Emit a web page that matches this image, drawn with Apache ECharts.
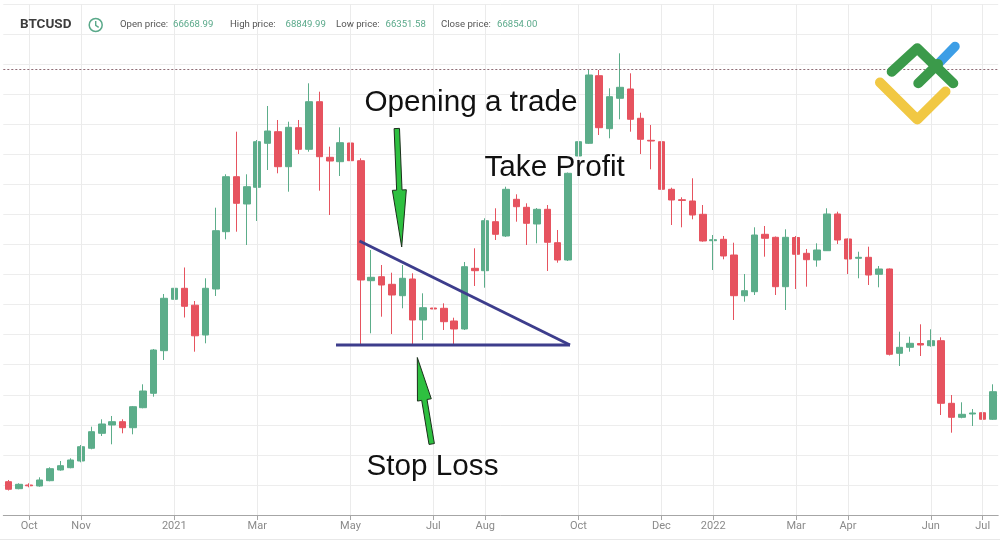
<!DOCTYPE html>
<html>
<head>
<meta charset="utf-8">
<script src="https://cdn.jsdelivr.net/npm/echarts@6/dist/echarts.min.js"></script>
<style>
html,body{margin:0;padding:0;background:#fff;}
#chart{width:1000px;height:542px;}
</style>
</head>
<body>
<div id="chart"></div>
<script>
// Weekly BTCUSD candles (week start dates)
const dates = [
 '2020-09-14','2020-09-21','2020-09-28','2020-10-05','2020-10-12','2020-10-19','2020-10-26',
 '2020-11-02','2020-11-09','2020-11-16','2020-11-23','2020-11-30','2020-12-07','2020-12-14','2020-12-21','2020-12-28',
 '2021-01-04','2021-01-11','2021-01-18','2021-01-25','2021-02-01','2021-02-08','2021-02-15','2021-02-22',
 '2021-03-01','2021-03-08','2021-03-15','2021-03-22','2021-03-29','2021-04-05','2021-04-12','2021-04-19','2021-04-26',
 '2021-05-03','2021-05-10','2021-05-17','2021-05-24','2021-05-31','2021-06-07','2021-06-14','2021-06-21','2021-06-28',
 '2021-07-05','2021-07-12','2021-07-19','2021-07-26','2021-08-02','2021-08-09','2021-08-16','2021-08-23','2021-08-30',
 '2021-09-06','2021-09-13','2021-09-20','2021-09-27','2021-10-04','2021-10-11','2021-10-18','2021-10-25',
 '2021-11-01','2021-11-08','2021-11-15','2021-11-22','2021-11-29','2021-12-06','2021-12-13','2021-12-20','2021-12-27',
 '2022-01-03','2022-01-10','2022-01-17','2022-01-24','2022-01-31','2022-02-07','2022-02-14','2022-02-21','2022-02-28',
 '2022-03-07','2022-03-14','2022-03-21','2022-03-28','2022-04-04','2022-04-11','2022-04-18','2022-04-25',
 '2022-05-02','2022-05-09','2022-05-16','2022-05-23','2022-05-30','2022-06-06','2022-06-13','2022-06-20','2022-06-27',
 '2022-07-04','2022-07-11'
];
const opens = [
 10826, 9876,10378,10243,10962,12414,12726,13635,15359,17394,18520,18968,18154,20868,22822,28603,
 35578,37071,34777,30733,36976,44751,52215,48510,50776,56747,58321,53572,58864,55933,62392,54847,54250,
 56788,54386,38102,38645,37613,36067,38333,32769,34397,34357,32633,31548,39785,39459,46108,44168,49148,48062,
 45796,47791,43259,40911,55024,56747,65921,58728,62854,64116,60140,57154,56964,50505,49094,48917,47112,
 43530,43720,41589,36067,36609,44398,43991,37288,43964,41820,40911,42173,47153,43761,41142,41277,38970,
 39690,28250,29064,29580,29282,29960,21465,19565,20013,20190,19294
];
const closes = [
  9795,10473,10270,11057,12590,12998,13771,15576,17611,18656,18968,18154,21004,23134,28698,35714,
 37071,34628,30625,37071,44887,52215,48605,50858,56964,58416,53572,58918,55933,62392,54929,54345,56829,
 54386,38197,38563,37518,36161,38428,32769,34438,34262,32538,31548,40002,39459,46244,44398,50505,48144,45891,
 47791,43313,40911,52676,56964,66015,58864,63071,64346,60004,57290,57059,50505,49053,48985,47017,43489,
 43666,41454,36067,36745,44303,43856,37288,43991,41685,40952,42268,47153,43625,41047,41277,38875,39690,
 28114,29064,29607,29376,29960,21465,19565,19972,20149,19294,23039
];
const lows = [
  9632, 9795,10066,10148,10881,12319,12645,13459,15223,17028,15901,17394,17258,20787,22361,27341,
 29892,33108,28467,29607,36026,43720,44751,42946,46203,53124,52676,50179,55295,55607,50315,47017,52310,
 53355,29376,30964,33217,30869,34357,29376,30055,32538,31412,29376,31412,37383,37152,43625,44032,46108,42946,
 43177,39418,40545,40775,54888,56652,57873,57426,60004,58321,55295,53219,41454,45660,45348,46434,43394,
 39554,41006,32769,35252,36161,41359,36161,34126,36976,37288,40002,42132,43082,39011,38428,37518,37206,
 27952,26527,28467,27884,29146,19877,17476,19430,18385,18751,19199
];
const highs = [
 11057,10609,10609,11423,12780,13635,14002,15806,18290,19294,19742,19294,21099,24043,28834,36297,
 41861,39893,35347,38428,48008,52540,58321,52540,57195,61809,59909,59678,59909,64889,63749,56286,58918,
 59814,54712,42268,40232,39188,40232,39106,36392,35578,35035,33081,40640,42499,46570,47927,50858,49826,48605,
 47967,48374,44982,52785,57643,66789,66694,64211,68960,66246,60900,59230,57195,50722,49419,51998,48374,
 44303,44168,43259,39011,45348,45525,44100,45077,44168,42404,43177,47927,47465,43829,42037,42716,40097,
 39758,31181,30503,32185,31507,30421,22591,21601,20692,22279,24043
];
// x-axis tick labels (category index -> text)
const tickIdx   = [2, 7, 16, 24, 33, 41, 46, 55, 63, 68, 76, 81, 89, 94];
const tickNames = ['Oct','Nov','2021','Mar','May','Jul','Aug','Oct','Dec','2022','Mar','Apr','Jun','Jul'];
const lastPrice = 66854;

const labelMap = {};
tickIdx.forEach((k, j) => { labelMap[k] = tickNames[j]; });

const UP = '#5cad8a', DOWN = '#e6535f';
const candleData = dates.map((d, i) => [opens[i], closes[i], lows[i], highs[i]]);

function arrowPts(tail, tip, headLen, headHalf, shaftHalf) {
  const dx = tip[0] - tail[0], dy = tip[1] - tail[1], L = Math.hypot(dx, dy);
  const ux = dx / L, uy = dy / L, nx = -uy, ny = ux;
  const hb = [tip[0] - ux * headLen, tip[1] - uy * headLen];
  return [
    [tail[0] + nx * shaftHalf, tail[1] + ny * shaftHalf],
    [hb[0] + nx * shaftHalf, hb[1] + ny * shaftHalf],
    [hb[0] + nx * headHalf, hb[1] + ny * headHalf],
    tip,
    [hb[0] - nx * headHalf, hb[1] - ny * headHalf],
    [hb[0] - nx * shaftHalf, hb[1] - ny * shaftHalf],
    [tail[0] - nx * shaftHalf, tail[1] - ny * shaftHalf]
  ];
}

const chart = echarts.init(document.getElementById('chart'), null, {renderer: 'canvas'});
const annoFont = '29.7px "Liberation Sans", Arial, sans-serif';
const hdrFont = '9.6px Roboto, "Noto Sans", sans-serif';
const hdrGrey = '#555', hdrGreen = '#5aa98a';

const graphics = [
  // bottom border
  {type: 'line', shape: {x1: 0, y1: 539.5, x2: 1000, y2: 539.5}, style: {stroke: '#e8e8e8', lineWidth: 1}, z: 1},
  // header
  {type: 'text', x: 20, y: 25, style: {text: 'BTCUSD', fill: '#3d3d3d', font: 'bold 13.5px Roboto, "Noto Sans", sans-serif', textVerticalAlign: 'middle'}, z: 50},
  {type: 'circle', shape: {cx: 95.7, cy: 25, r: 6.5}, style: {stroke: hdrGreen, fill: 'none', lineWidth: 1.5}, z: 50},
  {type: 'polyline', shape: {points: [[95.7, 21], [95.7, 25.3], [98.7, 27.3]]}, style: {stroke: hdrGreen, fill: 'none', lineWidth: 1.4}, z: 50},
  {type: 'text', x: 120, y: 25, style: {text: 'Open price:', fill: hdrGrey, font: hdrFont, textVerticalAlign: 'middle'}, z: 50},
  {type: 'text', x: 173, y: 25, style: {text: '66668.99', fill: hdrGreen, font: hdrFont, textVerticalAlign: 'middle'}, z: 50},
  {type: 'text', x: 230, y: 25, style: {text: 'High price:', fill: hdrGrey, font: hdrFont, textVerticalAlign: 'middle'}, z: 50},
  {type: 'text', x: 285.5, y: 25, style: {text: '68849.99', fill: hdrGreen, font: hdrFont, textVerticalAlign: 'middle'}, z: 50},
  {type: 'text', x: 336, y: 25, style: {text: 'Low price:', fill: hdrGrey, font: hdrFont, textVerticalAlign: 'middle'}, z: 50},
  {type: 'text', x: 385.5, y: 25, style: {text: '66351.58', fill: hdrGreen, font: hdrFont, textVerticalAlign: 'middle'}, z: 50},
  {type: 'text', x: 441, y: 25, style: {text: 'Close price:', fill: hdrGrey, font: hdrFont, textVerticalAlign: 'middle'}, z: 50},
  {type: 'text', x: 497, y: 25, style: {text: '66854.00', fill: hdrGreen, font: hdrFont, textVerticalAlign: 'middle'}, z: 50},
  // logo
  {type: 'polyline', shape: {points: [[880, 82.5], [917.3, 119.5], [945.5, 91.5]]}, style: {stroke: '#f1c843', fill: 'none', lineWidth: 10, lineCap: 'round', lineJoin: 'round'}, z: 60},
  {type: 'line', shape: {x1: 938, y1: 64, x2: 955, y2: 46.5}, style: {stroke: '#3d9ee6', lineWidth: 9.5, lineCap: 'round'}, z: 60},
  {type: 'polyline', shape: {points: [[891.7, 71.7], [917.3, 48.3], [953.3, 83.3]]}, style: {stroke: '#3b9a4a', fill: 'none', lineWidth: 10, lineCap: 'round', lineJoin: 'round'}, z: 61},
  {type: 'line', shape: {x1: 918.3, y1: 83.3, x2: 938, y2: 64}, style: {stroke: '#3b9a4a', lineWidth: 10, lineCap: 'round'}, z: 61},
  // triangle
  {type: 'line', shape: {x1: 359.5, y1: 241, x2: 570, y2: 345}, style: {stroke: '#3d3d8c', lineWidth: 3}, z: 40},
  {type: 'line', shape: {x1: 336, y1: 345, x2: 570, y2: 345}, style: {stroke: '#3d3d8c', lineWidth: 3}, z: 40},
  // arrows
  {type: 'polygon', shape: {points: arrowPts([396.8, 128.5], [401.7, 247], 57, 7, 2.7)}, style: {fill: '#2ec040', stroke: '#1b2e1b', lineWidth: 1}, z: 41},
  {type: 'polygon', shape: {points: arrowPts([431.7, 444], [417.3, 357.5], 43, 7, 2.7)}, style: {fill: '#2ec040', stroke: '#1b2e1b', lineWidth: 1}, z: 41},
  // annotation texts
  {type: 'text', x: 364.5, y: 102.5, style: {text: 'Opening a trade', fill: '#111', font: annoFont, textVerticalAlign: 'middle'}, z: 42},
  {type: 'text', x: 484.5, y: 167.5, style: {text: 'Take Profit', fill: '#111', font: annoFont, textVerticalAlign: 'middle'}, z: 42},
  {type: 'text', x: 366.5, y: 466.5, style: {text: 'Stop Loss', fill: '#111', font: annoFont, textVerticalAlign: 'middle'}, z: 42}
];

chart.setOption({
  animation: false,
  backgroundColor: '#fff',
  grid: {left: 3.3, right: 1.8, top: 4, bottom: 27, containLabel: false},
  xAxis: {
    type: 'category',
    data: dates,
    boundaryGap: true,
    axisLine: {show: true, lineStyle: {color: '#a6a6a6', width: 1}},
    axisTick: {show: true, alignWithLabel: true, length: 5, lineStyle: {color: '#a6a6a6'},
               interval: (i) => labelMap[i] !== undefined},
    axisLabel: {show: true, color: '#8a8a8a', fontSize: 11, fontFamily: 'Roboto, sans-serif', margin: 6,
                interval: (i) => labelMap[i] !== undefined,
                formatter: (v, i) => labelMap[i] || ''},
    splitLine: {show: false}
  },
  yAxis: [
    {type: 'value', min: 6307, max: 75650, show: false, splitLine: {show: false}},
    {type: 'value', min: 0, max: 17, interval: 1, axisLine: {show: false}, axisTick: {show: false},
     axisLabel: {show: false}, splitLine: {show: true, lineStyle: {color: '#ededed', width: 1}}}
  ],
  graphic: graphics,
  series: [
    {
      type: 'line', data: [], silent: true, z: 1,
      markLine: {
        symbol: 'none', silent: true, label: {show: false},
        lineStyle: {color: '#ebebeb', type: 'solid', width: 1},
        data: tickIdx.map(k => ({xAxis: dates[k]}))
      }
    },
    {
      type: 'candlestick', z: 3, silent: true,
      data: candleData,
      barWidth: 7,
      itemStyle: {color: UP, color0: DOWN, borderColor: UP, borderColor0: DOWN, borderWidth: 1},
      markLine: {
        symbol: 'none', silent: true, label: {show: false},
        lineStyle: {color: '#8d6a74', type: [2, 2], width: 1},
        data: [{yAxis: lastPrice}]
      }
    }
  ]
});
</script>
</body>
</html>
